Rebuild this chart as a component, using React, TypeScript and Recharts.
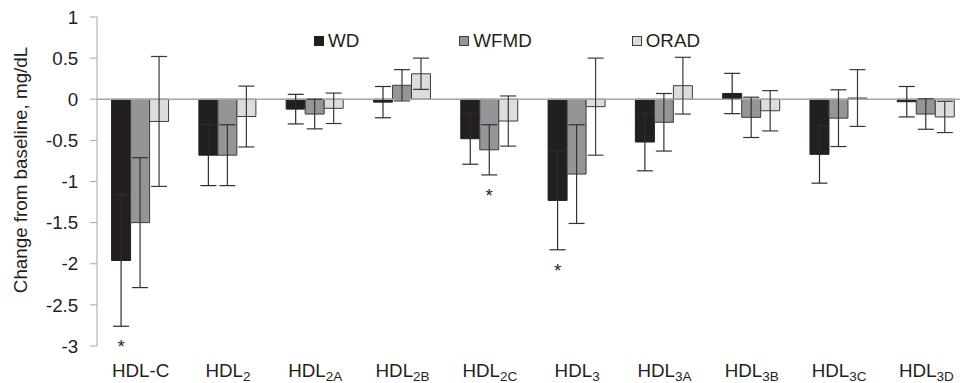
import { BarChart, Bar, XAxis, YAxis, ReferenceLine, ErrorBar, LabelList, Legend, Label } from 'recharts';

/* ---- data ---- */
const categories = ['HDL-C', 'HDL_2', 'HDL_2A', 'HDL_2B', 'HDL_2C', 'HDL_3', 'HDL_3A', 'HDL_3B', 'HDL_3C', 'HDL_3D'];

const wdValues = [-1.96, -0.68, -0.12, -0.035, -0.48, -1.23, -0.52, 0.07, -0.67, -0.03];
const wdErrors = [0.8, 0.37, 0.18, 0.19, 0.31, 0.6, 0.35, 0.245, 0.35, 0.185];
const wdSignificant = [true, false, false, false, false, true, false, false, false, false];

const wfmdValues = [-1.5, -0.68, -0.18, 0.17, -0.615, -0.91, -0.28, -0.22, -0.23, -0.18];
const wfmdErrors = [0.79, 0.37, 0.18, 0.19, 0.305, 0.6, 0.35, 0.245, 0.345, 0.185];
const wfmdSignificant = [false, false, false, false, true, false, false, false, false, false];

const oradValues = [-0.27, -0.21, -0.11, 0.31, -0.265, -0.09, 0.165, -0.14, 0.015, -0.215];
const oradErrors = [0.79, 0.37, 0.185, 0.19, 0.305, 0.59, 0.345, 0.245, 0.345, 0.19];
const oradSignificant = [false, false, false, false, false, false, false, false, false, false];

const yTicks = [1, 0.5, 0, -0.5, -1, -1.5, -2, -2.5, -3];

const FONT = 'Arial, "Liberation Sans", sans-serif';
const TEXT = '#231f20';
const AXIS_GRAY = '#a6a6a6';
const BAR_EDGE = '#3d3d3d';

const series = [
  { key: 'WD', values: wdValues, errors: wdErrors, sig: wdSignificant, fill: '#231f20', stroke: '#231f20', errColor: '#2e2b2c' },
  { key: 'WFMD', values: wfmdValues, errors: wfmdErrors, sig: wfmdSignificant, fill: '#939598', stroke: BAR_EDGE, errColor: '#333333' },
  { key: 'ORAD', values: oradValues, errors: oradErrors, sig: oradSignificant, fill: '#dcddde', stroke: BAR_EDGE, errColor: '#3a3a3a' },
];

const data = categories.map((name, i) => {
  const row: Record<string, string | number> = { name };
  series.forEach((s) => {
    row[s.key] = s.values[i];
    row[`${s.key}_err`] = s.errors[i];
  });
  return row;
});

/* ---- x tick with subscript ("HDL_2A" -> HDL + small 2A) ---- */
function CategoryTick({ x, y, payload }: any) {
  const [main, sub] = String(payload.value).split('_');
  return (
    <text x={x} y={y} dy={31} textAnchor="middle" fontSize={18.8} fontFamily={FONT} fill={TEXT}>
      <tspan>{main}</tspan>
      {sub && (
        <tspan dy={4} fontSize={13.5}>
          {sub}
        </tspan>
      )}
    </text>
  );
}

/* ---- asterisk under the error bar of significant bars ---- */
function makeStarLabel(sig: boolean[], values: number[], errors: number[]) {
  return (props: any) => {
    const i = props.index ?? values.indexOf(props.value);
    if (i == null || i < 0 || !sig[i]) return null;
    const vb = props.viewBox ?? props;
    const x = vb.x ?? props.x;
    const y = vb.y ?? props.y;
    const w = vb.width ?? props.width;
    const h = vb.height ?? props.height;
    const v = values[i];
    const top = Math.min(y, y + h);
    const bottom = Math.max(y, y + h);
    const pxPerUnit = (bottom - top) / Math.abs(v);
    const zeroPx = v < 0 ? top : bottom;
    const errEnd = zeroPx + (Math.abs(v) + errors[i]) * pxPerUnit;
    return (
      <text key={`star-${i}`} x={x + w / 2} y={errEnd + 27} textAnchor="middle" fontSize={18.8} fontFamily={FONT} fill={TEXT}>
        *
      </text>
    );
  };
}

function LegendContent() {
  return (
    <div style={{ display: 'flex', alignItems: 'center', lineHeight: '21px', fontSize: 18.8, fontFamily: FONT, color: TEXT }}>
      {series.map((s) => (
        <div key={s.key} style={{ display: 'flex', alignItems: 'center', marginRight: 100 }}>
          <span
            style={{
              display: 'inline-block',
              width: 10,
              height: 10,
              boxSizing: 'border-box',
              background: s.fill,
              border: `1px solid ${s.stroke}`,
              marginRight: 4,
            }}
          />
          <span>{s.key}</span>
        </div>
      ))}
    </div>
  );
}

export default function App() {
  return (
    <div style={{ position: 'fixed', left: 0, top: 0, width: 960, height: 383, overflow: 'hidden', background: '#fff' }}>
      <BarChart
        width={980}
        height={383}
        data={data}
        margin={{ top: 17, right: 10, bottom: 7, left: 0 }}
        barCategoryGap="16.7%"
        barGap={0}
        style={{ fontFamily: FONT }}
      >
        <XAxis
          dataKey="name"
          axisLine={false}
          tickLine={false}
          tickSize={0}
          tickMargin={0}
          height={30}
          interval={0}
          tick={<CategoryTick />}
        />
        <YAxis
          type="number"
          domain={[-3, 1]}
          ticks={yTicks}
          width={97}
          tickSize={7}
          tickMargin={11.7}
          stroke={AXIS_GRAY}
          tick={{ fontSize: 18.8, fill: TEXT, fontFamily: FONT }}
          interval={0}
        >
          <Label
            content={() => (
              <text
                x={26.5}
                y={170}
                transform="rotate(-90, 26.5, 170)"
                textAnchor="middle"
                fontSize={18.8}
                fontFamily={FONT}
                fill={TEXT}
              >
                Change from baseline, mg/dL
              </text>
            )}
          />
        </YAxis>
        <ReferenceLine y={0} stroke={AXIS_GRAY} strokeWidth={1.5} />
        <Legend
          verticalAlign="middle"
          layout="horizontal"
          content={<LegendContent />}
          wrapperStyle={{ top: 30, left: 314, width: 'auto' }}
        />
        {series.map((s) => (
          <Bar
            key={s.key}
            dataKey={s.key}
            fill={s.fill}
            stroke={s.stroke}
            strokeWidth={1}
            isAnimationActive={false}
          >
            <ErrorBar dataKey={`${s.key}_err`} width={8} stroke={s.errColor} strokeWidth={1.2} direction="y" />
            <LabelList dataKey={s.key} content={makeStarLabel(s.sig, s.values, s.errors)} />
          </Bar>
        ))}
      </BarChart>
    </div>
  );
}
